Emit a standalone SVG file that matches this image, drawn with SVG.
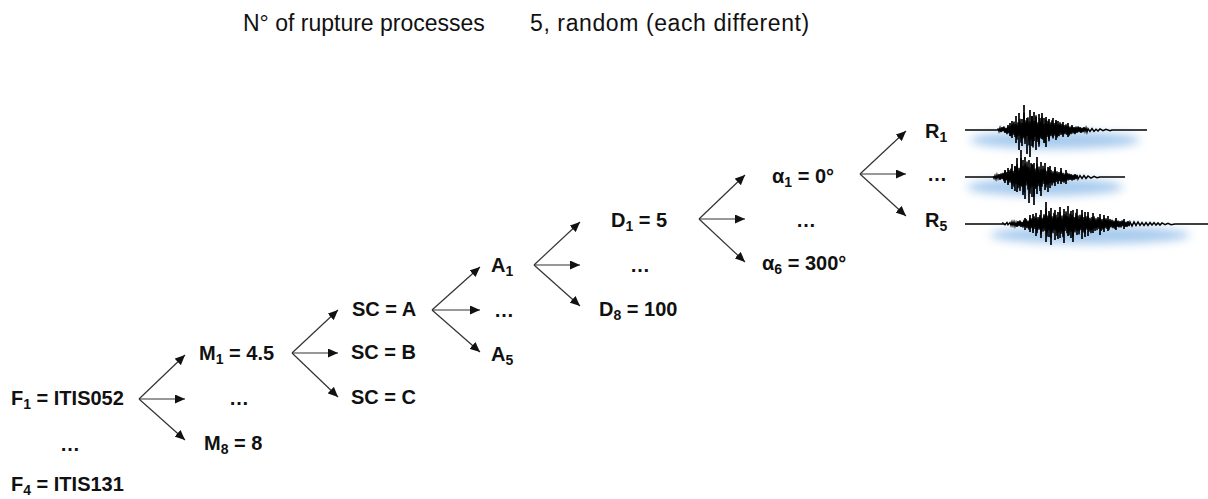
<svg xmlns="http://www.w3.org/2000/svg" width="1208" height="499" viewBox="0 0 1208 499">
<style>
.t{font-family:"Liberation Sans",Arial,sans-serif;font-size:20px;font-weight:bold;fill:#111}
.h{font-family:"Liberation Sans",Arial,sans-serif;font-size:23px;fill:#111}
.s{font-size:14px}
.c line{stroke:#333;stroke-width:1.2;marker-end:url(#ah)}
.w{fill:none;stroke:#000;stroke-width:1.5;vector-effect:non-scaling-stroke}
.k{fill:none;stroke:#000;stroke-width:1.7}
.g{fill:#8ab9e8;opacity:0.75;filter:url(#blur)}
</style>
<defs>
<marker id="ah" markerUnits="userSpaceOnUse" markerWidth="11" markerHeight="9" refX="10" refY="4.5" orient="auto">
<path d="M0,0 L10,4.5 L0,9 z" fill="#111"/>
</marker>
<filter id="blur" x="-20%" y="-100%" width="140%" height="300%"><feGaussianBlur stdDeviation="5"/></filter>
</defs>
<rect width="1208" height="499" fill="#fff"/>
<g id="header">
<text class="h" x="243" y="31">N° of rupture processes</text>
<text class="h" x="530" y="31" letter-spacing="0.6">5, random (each different)</text>
</g>
<g id="connectors" class="c">
<line x1="139" y1="399" x2="185" y2="355"/><line x1="139" y1="399" x2="185" y2="399"/><line x1="139" y1="399" x2="185" y2="440"/>
<line x1="292" y1="353" x2="338" y2="310"/><line x1="292" y1="353" x2="338" y2="353"/><line x1="292" y1="353" x2="338" y2="397"/>
<line x1="432" y1="310" x2="480" y2="267"/><line x1="432" y1="310" x2="480" y2="310"/><line x1="432" y1="310" x2="480" y2="352"/>
<line x1="534" y1="265" x2="580" y2="222"/><line x1="534" y1="265" x2="580" y2="265"/><line x1="534" y1="265" x2="580" y2="306"/>
<line x1="699" y1="219" x2="745" y2="175"/><line x1="699" y1="219" x2="745" y2="219"/><line x1="699" y1="219" x2="745" y2="262"/>
<line x1="860" y1="174" x2="906" y2="131"/><line x1="860" y1="174" x2="906" y2="174"/><line x1="860" y1="174" x2="906" y2="216"/>
</g>
<g id="node-F"><text class="t" x="11" y="405">F<tspan class="s" dy="4">1</tspan><tspan dy="-4"> = ITIS052</tspan></text>
<text class="t" x="60" y="451">…</text>
<text class="t" x="11" y="491">F<tspan class="s" dy="4">4</tspan><tspan dy="-4"> = ITIS131</tspan></text></g>
<g id="node-M"><text class="t" x="199" y="360">M<tspan class="s" dy="4">1</tspan><tspan dy="-4"> = 4.5</tspan></text>
<text class="t" x="229" y="405">…</text>
<text class="t" x="204" y="450">M<tspan class="s" dy="4">8</tspan><tspan dy="-4"> = 8</tspan></text></g>
<g id="node-SC"><text class="t" x="352" y="316">SC = A</text>
<text class="t" x="351" y="359">SC = B</text>
<text class="t" x="351" y="404">SC = C</text></g>
<g id="node-A"><text class="t" x="491" y="272">A<tspan class="s" dy="4">1</tspan></text>
<text class="t" x="494" y="317">…</text>
<text class="t" x="491" y="361">A<tspan class="s" dy="4">5</tspan></text></g>
<g id="node-D"><text class="t" x="611" y="227">D<tspan class="s" dy="4">1</tspan><tspan dy="-4"> = 5</tspan></text>
<text class="t" x="630" y="272">…</text>
<text class="t" x="599" y="316">D<tspan class="s" dy="4">8</tspan><tspan dy="-4"> = 100</tspan></text></g>
<g id="node-alpha"><text class="t" x="772" y="183">α<tspan class="s" dy="4">1</tspan><tspan dy="-4"> = 0°</tspan></text>
<text class="t" x="796" y="227">…</text>
<text class="t" x="762" y="270">α<tspan class="s" dy="4">6</tspan><tspan dy="-4"> = 300°</tspan></text></g>
<g id="node-R"><text class="t" x="925" y="138">R<tspan class="s" dy="4">1</tspan></text>
<text class="t" x="927" y="181">…</text>
<text class="t" x="925" y="227">R<tspan class="s" dy="4">5</tspan></text></g>
<g id="waveforms">
<ellipse class="g" cx="1055" cy="140" rx="85" ry="9"/>
<ellipse class="g" cx="1045" cy="187" rx="78" ry="9"/>
<ellipse class="g" cx="1090" cy="235" rx="100" ry="9"/>
<path class="w" transform="translate(0,130) scale(1,0.7) translate(0,-130)" d="M965 130 L998 130 998 128 999 132 1000 127 1001 133 1002 126 1003 132 1004 125 1005 134 1006 127 1007 136 1008 123 1009 135 1010 124 1011 139 1012 122 1013 137 1014 118 1015 140 1016 121 1017 144 1018 119 1019 138 1020 114 1021 148 1022 120 1023 142 1024 105 1025 150 1026 116 1027 139 1028 112 1029 152 1030 118 1031 145 1032 110 1033 155 1034 117 1035 140 1036 109 1037 147 1038 119 1039 154 1040 113 1041 142 1042 111 1043 144 1044 121 1045 148 1046 115 1047 140 1048 117 1049 146 1050 119 1051 139 1052 116 1053 142 1054 120 1055 138 1056 118 1057 141 1058 122 1059 139 1060 119 1061 137 1062 121 1063 140 1064 123 1065 136 1066 122 1067 137 1068 124 1069 138 1070 125 1071 136 1072 123 1073 135 1074 126 1075 136 1076 125 1077 134 1078 125 1079 133 1080 126 1081 134 1082 127 1083 133 1084 126 1085 132 1086 127 1087 133 1088 128 1090 132 1092 128 1094 132 1096 129 1098 131.5 1100 128.5 1103 131 1106 129 1110 131 1112 130 1147 130"/>
<path class="k" d="M1010 123V136 M1012 121V138 M1016 116V143 M1019 113V150 M1022 119V146 M1024 105V137 M1027 118V154 M1030 110V157 M1032 116V146 M1034 112V141 M1036 117V150 M1039 114V144 M1042 113V139 M1044 118V143 M1046 117V147 M1049 119V139 M1053 118V137 M1056 120V140 M1058 121V136 M1063 122V134 M1068 123V137"/>
<path class="w" transform="translate(0,177) scale(1,0.7) translate(0,-177)" d="M965 177 L993 177 993 176 994 179 995 175 996 180 997 174 998 179 999 173 1000 181 1001 172 1002 180 1003 171 1004 183 1005 169 1006 182 1007 170 1008 186 1009 167 1010 185 1011 165 1012 188 1013 168 1014 191 1015 162 1016 187 1017 159 1018 193 1019 164 1020 197 1021 150 1022 191 1023 161 1024 199 1025 158 1026 189 1027 155 1028 195 1029 163 1030 201 1031 157 1032 192 1033 160 1034 205 1035 165 1036 194 1037 158 1038 190 1039 162 1040 197 1041 166 1042 191 1043 161 1044 187 1045 165 1046 192 1047 168 1048 188 1049 164 1050 186 1051 167 1052 189 1053 169 1054 186 1055 166 1056 184 1057 169 1058 187 1059 170 1060 183 1061 168 1062 184 1063 171 1064 185 1065 172 1066 183 1067 171 1068 182 1069 172 1070 181 1071 173 1072 182 1073 174 1074 181 1075 173 1076 180 1077 174 1078 180 1080 175 1082 179 1084 175 1086 179 1088 175.5 1091 178.5 1094 176 1097 178 1100 177 1125 177"/>
<path class="k" d="M1005 170V183 M1008 168V185 M1012 164V189 M1015 166V191 M1017 158V192 M1021 150V186 M1023 160V195 M1025 157V199 M1029 160V203 M1032 164V197 M1034 163V205 M1037 157V194 M1041 162V196 M1045 163V190 M1048 167V192 M1050 166V188 M1055 167V186 M1061 168V184 M1066 170V184"/>
<path class="w" transform="translate(0,224) scale(1,0.7) translate(0,-224)" d="M965 224 L1003 224 1003 223 1005 225 1007 222 1008 225 1010 222 1011 226 1012 221 1013 226 1014 221 1015 227 1016 222 1017 228 1018 220 1019 227 1020 219 1021 228 1022 221 1023 229 1024 218 1025 228 1026 217 1027 230 1028 219 1029 232 1030 215 1031 230 1032 216 1033 234 1034 213 1035 231 1036 215 1037 237 1038 214 1039 232 1040 211 1041 239 1042 215 1043 235 1044 210 1045 234 1046 202 1047 242 1048 212 1049 233 1050 209 1051 244 1052 213 1053 237 1054 208 1055 233 1056 211 1057 241 1058 214 1059 236 1060 207 1061 238 1062 212 1063 243 1064 210 1065 234 1066 206 1067 237 1068 213 1069 240 1070 209 1071 235 1072 211 1073 242 1074 214 1075 236 1076 208 1077 234 1078 212 1079 239 1080 211 1081 233 1082 210 1083 236 1084 214 1085 238 1086 213 1087 232 1088 212 1089 235 1090 215 1091 237 1092 214 1093 232 1094 213 1095 234 1096 216 1097 233 1098 214 1099 231 1100 215 1101 234 1102 217 1103 232 1104 215 1105 230 1106 216 1107 231 1108 218 1109 232 1110 217 1111 229 1112 218 1113 230 1114 219 1115 231 1116 218 1117 228 1118 219 1119 229 1120 220 1121 229 1122 219 1123 227 1124 220 1125 228 1126 221 1127 228 1128 220 1129 227 1130 221 1132 227 1134 221 1136 226 1138 221 1140 226 1142 222 1144 226 1146 222 1148 226 1150 222 1152 225.5 1154 222 1156 225.5 1158 222.5 1160 225.5 1162 222.5 1165 225 1168 223 1171 225 1175 224 1208 224"/>
<path class="k" d="M1025 218V230 M1030 215V232 M1033 214V233 M1036 213V236 M1041 210V238 M1046 202V242 M1049 211V237 M1051 208V245 M1055 210V240 M1058 212V239 M1060 207V238 M1064 209V243 M1068 206V236 M1071 211V238 M1073 210V242 M1077 209V235 M1082 210V239 M1085 212V237 M1088 212V236 M1093 213V233 M1100 214V235 M1104 215V232 M1108 216V231 M1116 218V230 M1124 219V229"/>
</g>
</svg>
